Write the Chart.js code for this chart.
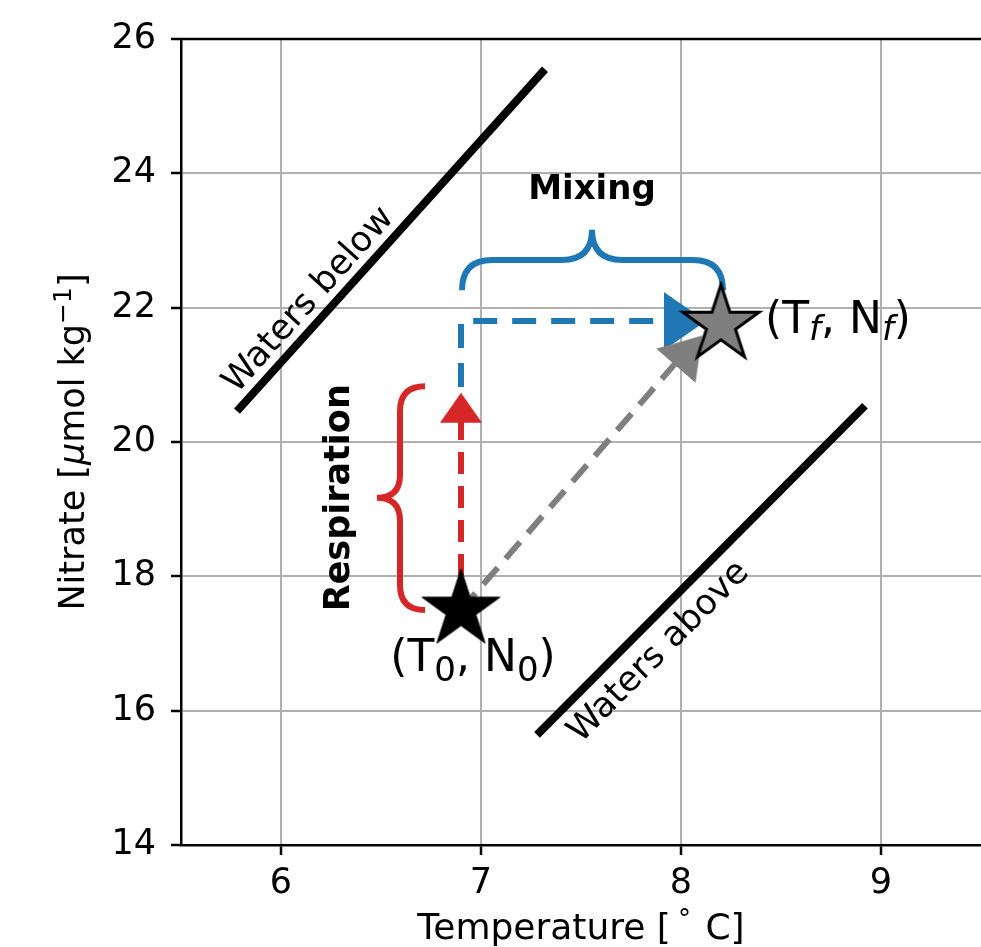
<!DOCTYPE html>
<html>
<head>
<meta charset="utf-8">
<script src="https://cdn.jsdelivr.net/npm/chart.js@4/dist/chart.umd.min.js"></script>
<style>
  html, body { margin: 0; padding: 0; background: #fff; overflow: hidden; }
  #wrap { width: 981px; height: 947px; overflow: hidden; }
</style>
</head>
<body>
<div id="wrap"><canvas id="tnChart" width="992" height="947"></canvas></div>
<script>
// axis ticks
const xTicks = [6, 7, 8, 9];
const yTicks = [14, 16, 18, 20, 22, 24, 26];

// water mass end members
const watersBelow = [{x: 5.78, y: 20.46}, {x: 7.32, y: 25.55}];
const watersAbove = [{x: 7.28, y: 15.64}, {x: 8.92, y: 20.54}];

// initial and final state
const startPoint = [{x: 6.9, y: 17.5}];
const endPoint = [{x: 8.2, y: 21.75}];

// arrows (dashed path, then head centre)
const respPath = [{x: 6.9, y: 17.5}, {x: 6.9, y: 20.4}];
const respHead = [{x: 6.9, y: 20.51}];
const mixPath = [{x: 6.9, y: 20.82}, {x: 6.9, y: 21.8}, {x: 7.95, y: 21.8}];
const mixHead = [{x: 8.02, y: 21.8}];
const netPath = [{x: 6.9, y: 17.5}, {x: 7.98, y: 21.2}];
const netHead = [{x: 8.04, y: 21.36}];

// braces: [start, end, bar, end-level, tip-level, tip-centre]
const mixBrace = [6.905, 8.21, 22.71, 22.26, 23.16, 7.555];   // horizontal, in x
const respBrace = [17.5, 20.83, 6.595, 6.72, 6.48, 19.17];    // vertical, in y

// text labels
const textLabels = ['Waters below', 'Waters above', 'Mixing', 'Respiration'];
const textX = [6.14, 7.89, 7.555, 6.295];
const textY = [22.11, 16.87, 23.75, 19.17];
const startLabelAt = [6.96, 16.755];
const endLabelAt = [8.42, 21.8];

const FONT = 'DejaVu Sans';
const BLUE = '#1f77b4', RED = '#d62728', GREY = '#7f7f7f';

function makeStar(r, fill, edge, lw) {
  const size = Math.ceil(2 * r + lw + 4);
  const c = document.createElement('canvas');
  c.width = size; c.height = size;
  const g = c.getContext('2d');
  g.translate(size / 2, size / 2);
  g.beginPath();
  for (let i = 0; i < 10; i++) {
    const rr = i % 2 ? r * 0.382 : r;
    const a = -Math.PI / 2 + i * Math.PI / 5;
    g.lineTo(rr * Math.cos(a), rr * Math.sin(a));
  }
  g.closePath();
  g.fillStyle = fill;
  g.fill();
  if (edge) {
    g.lineWidth = lw;
    g.strokeStyle = edge;
    g.lineJoin = 'miter';
    g.stroke();
  }
  return c;
}

function makeHead(len, wid, color) {
  const size = Math.ceil(Math.max(len, wid)) + 4;
  const c = document.createElement('canvas');
  c.width = size; c.height = size;
  const g = c.getContext('2d');
  g.translate(size / 2, size / 2);
  g.beginPath();
  g.moveTo(0, -len / 2);
  g.lineTo(wid / 2, len / 2);
  g.lineTo(-wid / 2, len / 2);
  g.closePath();
  g.fillStyle = color;
  g.fill();
  return c;
}

function drawRuns(g, runs, x, y, align) {
  let w = 0;
  runs.forEach(r => { g.font = r[1]; w += g.measureText(r[0]).width; });
  let cx = align === 'center' ? x - w / 2 : x;
  g.textAlign = 'left';
  g.textBaseline = 'middle';
  runs.forEach(r => {
    g.font = r[1];
    g.fillText(r[0], cx, y + (r[2] || 0));
    cx += g.measureText(r[0]).width;
  });
}

function segAngle(chart, a, b) {
  const sx = chart.scales.x, sy = chart.scales.y;
  return Math.atan2(sy.getPixelForValue(b.y) - sy.getPixelForValue(a.y),
                    sx.getPixelForValue(b.x) - sx.getPixelForValue(a.x));
}

const notes = {
  id: 'notes',
  beforeDatasetsDraw(chart) {
    const g = chart.ctx, sx = chart.scales.x, sy = chart.scales.y;
    g.save();
    g.lineWidth = 6;
    g.lineCap = 'butt';
    // mixing brace (opens downward)
    let x1 = sx.getPixelForValue(mixBrace[0]), x2 = sx.getPixelForValue(mixBrace[1]);
    let bar = sy.getPixelForValue(mixBrace[2]), end = sy.getPixelForValue(mixBrace[3]);
    let tip = sy.getPixelForValue(mixBrace[4]), mid = sx.getPixelForValue(mixBrace[5]);
    let r = end - bar, r2 = bar - tip;
    g.strokeStyle = BLUE;
    g.beginPath();
    g.moveTo(x1, end);
    g.quadraticCurveTo(x1, bar, x1 + r, bar);
    g.lineTo(mid - r2, bar);
    g.quadraticCurveTo(mid, bar, mid, tip);
    g.quadraticCurveTo(mid, bar, mid + r2, bar);
    g.lineTo(x2 - r, bar);
    g.quadraticCurveTo(x2, bar, x2, end);
    g.stroke();
    // respiration brace (opens right)
    const y1 = sy.getPixelForValue(respBrace[0]), y2 = sy.getPixelForValue(respBrace[1]);
    bar = sx.getPixelForValue(respBrace[2]); end = sx.getPixelForValue(respBrace[3]);
    tip = sx.getPixelForValue(respBrace[4]); mid = sy.getPixelForValue(respBrace[5]);
    r = end - bar; r2 = bar - tip;
    g.strokeStyle = RED;
    g.beginPath();
    g.moveTo(end, y1);
    g.quadraticCurveTo(bar, y1, bar, y1 - r);
    g.lineTo(bar, mid + r2);
    g.quadraticCurveTo(bar, mid, tip, mid);
    g.quadraticCurveTo(bar, mid, bar, mid - r2);
    g.lineTo(bar, y2 + r);
    g.quadraticCurveTo(bar, y2, end, y2);
    g.stroke();
    g.restore();
  },
  afterDatasetsDraw(chart) {
    const g = chart.ctx, sx = chart.scales.x, sy = chart.scales.y;
    g.save();
    g.fillStyle = '#000';
    const angles = [segAngle(chart, watersBelow[0], watersBelow[1]),
                    segAngle(chart, watersAbove[0], watersAbove[1]), 0, -Math.PI / 2];
    const fonts = ['35px ' + FONT, '35px ' + FONT, 'bold 34px ' + FONT, 'bold 35px ' + FONT];
    textLabels.forEach((t, i) => {
      g.save();
      g.translate(sx.getPixelForValue(textX[i]), sy.getPixelForValue(textY[i]));
      g.rotate(angles[i]);
      g.font = fonts[i];
      g.textAlign = 'center';
      g.textBaseline = 'middle';
      g.fillText(t, 0, 0);
      g.restore();
    });
    const big = '44px ' + FONT, sub = '34px ' + FONT, subI = 'oblique 34px ' + FONT;
    drawRuns(g, [['(T', big], ['0', sub, 12], [', N', big], ['0', sub, 12], [')', big]],
      sx.getPixelForValue(startLabelAt[0]), sy.getPixelForValue(startLabelAt[1]), 'center');
    drawRuns(g, [['(T', big], ['f', subI, 10], [', N', big], ['f', subI, 10], [')', big]],
      sx.getPixelForValue(endLabelAt[0]), sy.getPixelForValue(endLabelAt[1]), 'left');
    g.restore();
  },
  afterDraw(chart) {
    const g = chart.ctx, a = chart.chartArea;
    g.save();
    // top spine
    g.strokeStyle = '#000';
    g.lineWidth = 2.5;
    g.beginPath();
    g.moveTo(a.left - 1.25, a.top);
    g.lineTo(a.right + 2, a.top);
    g.stroke();
    // axis titles
    g.fillStyle = '#000';
    const f = '36px ' + FONT;
    drawRuns(g, [['Temperature [\u2009', f], ['\u00b0', '26px ' + FONT, -9], ['\u2009\u2009C]', f]],
      (a.left + a.right) / 2, 930, 'center');
    g.translate(75, (a.top + a.bottom) / 2);
    g.rotate(-Math.PI / 2);
    const fy = '35px ' + FONT;
    drawRuns(g, [['Nitrate [', fy], ['\u03bc', 'oblique 35px ' + FONT], ['mol kg', fy],
                 ['\u22121', '25px ' + FONT, -11], [']', fy]], 0, 0, 'center');
    g.restore();
  }
};

function lineSet(data, color, width, dash, order) {
  return {
    type: 'line', data: data, borderColor: color, borderWidth: width,
    borderDash: dash, borderCapStyle: 'butt', pointRadius: 0, fill: false,
    tension: 0, showLine: true, order: order
  };
}

function markSet(data, style, rotation, order) {
  return {
    type: 'scatter', data: data, pointStyle: style, pointRadius: 10,
    pointHoverRadius: 10, rotation: rotation, order: order
  };
}

const ctx = document.getElementById('tnChart').getContext('2d');

const tnChart = new Chart(ctx, {
  type: 'scatter',
  data: {
    datasets: [
      markSet(startPoint, makeStar(41, '#000', '#000', 1), 0, 0),
      markSet(endPoint, makeStar(40, GREY, '#000', 3), 0, 0),
      markSet(netHead, makeHead(40, 52, GREY),
        c => segAngle(c.chart, netPath[0], netPath[1]) * 180 / Math.PI + 90, 1),
      markSet(mixHead, makeHead(42, 58, BLUE), 90, 2),
      markSet(respHead, makeHead(30, 42, RED), 0, 2),
      lineSet(netPath, GREY, 6, [22, 12], 3),
      lineSet(mixPath, BLUE, 6, [24, 15], 3),
      lineSet(respPath, RED, 6, [22, 12], 3),
      lineSet(watersBelow, '#000', 8, [], 4),
      lineSet(watersAbove, '#000', 8, [], 4)
    ]
  },
  options: {
    responsive: false,
    animation: false,
    events: [],
    layout: { padding: { top: 39, right: 0, bottom: 0, left: 0 } },
    plugins: { legend: { display: false }, tooltip: { enabled: false } },
    scales: {
      x: {
        type: 'linear', min: 5.5, max: 9.5,
        afterBuildTicks: s => { s.ticks = xTicks.map(v => ({value: v})); },
        afterFit: s => { s.height = 102; },
        grid: { color: '#b0b0b0', lineWidth: 2, tickColor: '#000', tickWidth: 2.5, tickLength: 10 },
        border: { color: '#000', width: 2.5 },
        ticks: { color: '#000', font: { family: FONT, size: 35 }, padding: 8, maxRotation: 0 }
      },
      y: {
        type: 'linear', min: 14, max: 26,
        afterBuildTicks: s => { s.ticks = yTicks.map(v => ({value: v})); },
        afterFit: s => { s.width = 181; },
        grid: { color: '#b0b0b0', lineWidth: 2, tickColor: '#000', tickWidth: 2.5, tickLength: 10 },
        border: { color: '#000', width: 2.5 },
        ticks: { color: '#000', font: { family: FONT, size: 35 }, padding: 15 }
      }
    }
  },
  plugins: [notes]
});
</script>
</body>
</html>
